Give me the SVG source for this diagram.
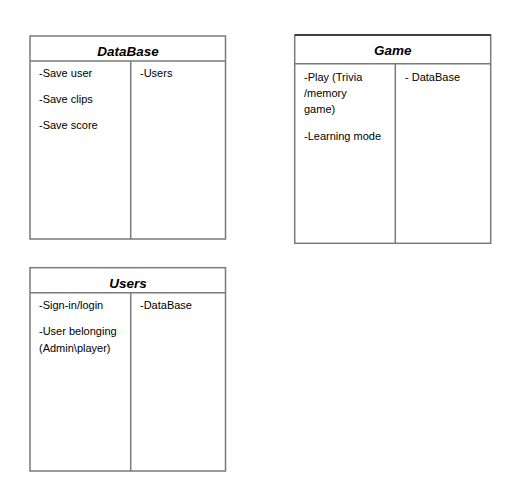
<svg xmlns="http://www.w3.org/2000/svg" width="526" height="480" viewBox="0 0 526 480">
<style>
.box{fill:#ffffff;stroke:#7a7a7a;stroke-width:1.5}
.ln{stroke:#7a7a7a;stroke-width:1.5;fill:none}
.hd{font-family:"Liberation Sans",Arial,sans-serif;font-size:13.5px;font-weight:bold;font-style:italic;fill:#000;text-anchor:middle}
.t{font-family:"Liberation Sans",Arial,sans-serif;font-size:11px;fill:#000}
</style>
<rect width="526" height="480" fill="#ffffff"/>
<g id="connectors"></g>
<g id="database">
<rect class="box" x="30" y="36" width="195.5" height="203"/>
<line class="ln" x1="30" y1="61" x2="225.5" y2="61"/>
<line class="ln" x1="130.7" y1="61" x2="130.7" y2="239"/>
<text class="hd" x="128" y="55.5">DataBase</text>
<text class="t" x="39" y="77">-Save user</text>
<text class="t" x="39" y="103">-Save clips</text>
<text class="t" x="39" y="129">-Save score</text>
<text class="t" x="140" y="77">-Users</text>
</g>
<g id="game">
<rect class="box" x="294.7" y="35" width="196" height="208.3"/>
<line x1="294.7" y1="35" x2="490.7" y2="35" stroke="#222" stroke-width="1.5"/>
<line class="ln" x1="294.7" y1="63.7" x2="490.7" y2="63.7"/>
<line class="ln" x1="395.3" y1="63.7" x2="395.3" y2="243.3"/>
<text class="hd" x="392.7" y="55">Game</text>
<text class="t" x="304" y="80.7">-Play (Trivia</text>
<text class="t" x="304" y="96.7">/memory</text>
<text class="t" x="304" y="112.7">game)</text>
<text class="t" x="304" y="140">-Learning mode</text>
<text class="t" x="405" y="80.7">- DataBase</text>
</g>
<g id="users">
<rect class="box" x="30" y="267.7" width="195.5" height="203.3"/>
<line class="ln" x1="30" y1="292.7" x2="225.5" y2="292.7"/>
<line class="ln" x1="130.7" y1="292.7" x2="130.7" y2="471"/>
<text class="hd" x="128" y="287.7">Users</text>
<text class="t" x="39" y="308.7">-Sign-in/login</text>
<text class="t" x="39" y="335.3">-User belonging</text>
<text class="t" x="39" y="352">(Admin\player)</text>
<text class="t" x="140" y="308.7">-DataBase</text>
</g>
</svg>
